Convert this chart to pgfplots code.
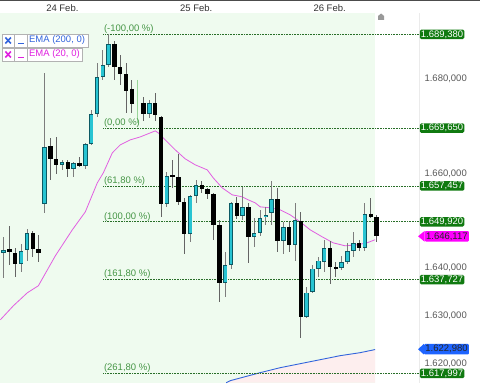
\documentclass[border=0pt]{standalone}
\usepackage{pgfplots}
\pgfplotsset{compat=1.18}
\usepackage{pgfplotstable}
\usepackage{fontspec}
\setmainfont{Liberation Sans}
\definecolor{bggreen}{RGB}{239,251,239}
\definecolor{fibline}{RGB}{40,110,40}
\definecolor{fibtext}{RGB}{70,150,70}
\definecolor{fibboxc}{RGB}{16,122,16}
\definecolor{bullfill}{RGB}{40,196,210}
\definecolor{bulledge}{RGB}{12,90,100}
\definecolor{wick}{RGB}{125,125,125}
\definecolor{emaviolet}{RGB}{225,95,225}
\definecolor{emablue}{RGB}{50,100,220}
\definecolor{legmag}{RGB}{224,32,224}
\definecolor{markpink}{RGB}{255,0,255}
\definecolor{markblue}{RGB}{30,100,255}
\definecolor{emafill}{RGB}{253,238,238}

\pgfplotstableread{
x o h l c
3.3 1643.37 1646.74 1638.11 1644.00
20.8 1641.05 1645.26 1639.37 1643.79
26.6 1644.00 1648.42 1641.69 1647.58
44.1 1653.68 1681.26 1651.79 1665.68
61.6 1661.90 1662.95 1660.84 1662.53
73.3 1661.05 1662.53 1659.37 1662.32
85.0 1661.69 1666.53 1661.05 1666.32
90.8 1666.32 1673.47 1666.11 1672.63
96.6 1672.63 1683.37 1672.00 1680.42
102.4 1680.42 1686.11 1679.79 1682.95
108.3 1682.95 1689.38 1682.53 1687.37
149.1 1672.63 1675.58 1671.79 1674.95
166.5 1653.68 1660.42 1653.05 1659.58
189.9 1647.37 1655.58 1645.69 1655.37
195.7 1655.37 1658.74 1653.89 1657.69
224.9 1637.05 1643.58 1634.11 1640.84
230.7 1640.84 1654.11 1640.00 1653.89
242.4 1651.16 1657.26 1650.32 1653.05
254.0 1646.74 1650.74 1644.63 1647.58
259.9 1647.58 1652.42 1646.95 1650.74
265.7 1650.95 1653.05 1649.26 1651.37
271.5 1651.79 1658.53 1649.26 1654.74
283.2 1645.90 1649.90 1643.16 1648.84
294.9 1645.05 1653.89 1641.69 1650.32
306.5 1629.90 1636.21 1629.69 1634.95
312.4 1635.16 1640.84 1634.95 1640.00
318.2 1640.00 1642.53 1638.32 1641.69
324.0 1641.47 1646.11 1639.37 1644.42
341.5 1640.21 1642.74 1639.79 1641.47
347.4 1641.47 1645.47 1641.05 1643.79
353.2 1643.79 1647.79 1642.53 1645.47
364.8 1644.42 1653.89 1643.79 1651.58
}\bull

\pgfplotstableread{
x o h l c
9.1 1644.21 1649.05 1640.84 1643.58
14.9 1643.37 1644.42 1638.32 1641.05
32.5 1647.58 1648.00 1642.53 1644.21
38.3 1644.21 1647.16 1641.47 1643.37
50.0 1665.90 1667.58 1658.74 1663.16
55.8 1663.16 1667.79 1660.00 1661.90
67.4 1662.53 1662.95 1659.37 1661.05
79.1 1662.32 1663.58 1661.47 1661.69
114.1 1687.37 1688.00 1679.79 1682.53
120.0 1682.53 1685.05 1678.74 1681.05
125.8 1681.05 1683.37 1672.84 1677.47
131.6 1677.89 1679.79 1672.84 1674.74
143.2 1674.95 1676.21 1671.16 1672.63
154.9 1674.95 1677.05 1671.16 1672.42
160.7 1672.00 1672.21 1650.95 1653.68
172.4 1659.79 1662.95 1657.05 1659.37
178.2 1659.37 1664.21 1653.47 1654.11
184.0 1654.11 1654.95 1643.16 1647.37
201.6 1657.69 1658.53 1656.00 1656.84
207.4 1656.84 1657.05 1654.74 1655.79
213.2 1655.79 1656.00 1646.11 1649.26
219.1 1649.26 1650.32 1633.05 1637.05
236.5 1653.89 1655.16 1650.53 1651.16
248.2 1653.05 1653.89 1641.26 1646.74
277.4 1654.74 1657.05 1643.58 1645.90
289.0 1648.84 1649.90 1643.58 1645.05
300.7 1650.11 1652.00 1625.47 1629.90
329.9 1644.42 1645.90 1636.84 1640.42
335.7 1640.42 1641.47 1638.32 1640.00
359.0 1645.47 1646.11 1643.79 1644.42
370.7 1651.58 1654.95 1650.74 1650.95
376.5 1650.95 1651.37 1645.69 1646.95
}\bear

\pgfplotstableread{
x y
0 1629.26
13 1632.21
27 1634.95
38 1636.42
55 1642.74
72 1648.21
85 1652.00
97 1658.11
103 1660.21
112 1664.42
120 1666.11
130 1667.16
140 1667.79
150 1668.63
155 1669.05
158 1668.63
165 1667.16
175 1665.05
185 1663.16
195 1661.90
207 1660.84
213 1659.16
222 1657.05
232 1655.58
242 1655.16
248 1654.53
255 1653.89
260 1653.05
270 1652.84
280 1652.42
290 1651.37
300 1649.90
310 1648.21
322 1646.74
333 1645.47
345 1644.84
357 1645.05
367 1645.47
375 1646.12
}\ematwenty

\pgfplotstableread{
x y
226 1616.00
230 1616.42
260 1618.11
280 1619.16
300 1620.00
320 1620.84
340 1621.69
360 1622.32
375 1622.98
}\ematwohundred

\tikzset{
  fiblab/.style={anchor=south west, text=fibtext, inner sep=0.5pt},
  pricebox/.style={anchor=west, fill=fibboxc, text=white, inner xsep=1.2pt, inner ysep=0pt, minimum height=9.5pt, rounded corners=1.5pt},
  fibln/.style={draw=fibline, line width=0.7pt, dash pattern=on 0.8pt off 0.8pt},
  markbox/.style={anchor=east, inner xsep=1.2pt, inner ysep=0pt, minimum height=10.5pt, rounded corners=1pt},
}

\begin{document}
\begin{tikzpicture}[font=\fontsize{9.5}{11}\selectfont]
% canvas and backgrounds
\fill[white] (0pt,0pt) rectangle (480pt,383pt);
\fill[bggreen] (0pt,0pt) rectangle (375pt,370pt);
\draw[black!8] (419pt,0pt) -- (419pt,370pt);
\fill[black!70] (0pt,382pt) rectangle (480pt,383pt);

\begin{axis}[at={(0pt,0pt)}, anchor=south west, scale only axis,
  width=375pt, height=370pt,
  xmin=0, xmax=375, ymin=1616.0, ymax=1693.895,
  axis lines=none, clip=false]

% EMA 200 shaded area and line
\addplot[fill=emafill, draw=none] coordinates {
 (226,1616.00) (230,1616.42) (260,1618.11) (280,1619.16) (300,1620.00)
 (320,1620.84) (340,1621.69) (360,1622.32) (375,1622.98) (375,1616.00)} -- cycle;
\addplot[emablue, line width=0.9pt, mark=none] table[x=x,y=y] {\ematwohundred};

% Fibonacci levels
\addplot[fibln, mark=none] coordinates {(103,1689.38) (420,1689.38)};
\addplot[fibln, mark=none] coordinates {(103,1669.65) (420,1669.65)};
\addplot[fibln, mark=none] coordinates {(103,1657.457) (420,1657.457)};
\addplot[fibln, mark=none] coordinates {(103,1649.92) (420,1649.92)};
\addplot[fibln, mark=none] coordinates {(103,1637.727) (420,1637.727)};
\addplot[fibln, mark=none] coordinates {(103,1617.997) (420,1617.997)};
\addplot[green!60!black!40, line width=0.6pt, mark=none] coordinates {(137,1679.79) (137,1670.74)};

% EMA 20
\addplot[emaviolet, line width=0.8pt, mark=none] table[x=x,y=y] {\ematwenty};

% wicks
\addplot[draw=none, mark=none, error bars/.cd, y dir=plus, y explicit, error mark=none,
  error bar style={draw=wick, line width=0.8pt}]
  table[x=x, y=l, y error expr=\thisrow{h}-\thisrow{l}] {\bull};
\addplot[draw=none, mark=none, error bars/.cd, y dir=plus, y explicit, error mark=none,
  error bar style={draw=wick!80!black, line width=0.8pt}]
  table[x=x, y=l, y error expr=\thisrow{h}-\thisrow{l}] {\bear};

% bodies
\addplot[draw=none, mark=none, error bars/.cd, y dir=plus, y explicit, error mark=none,
  error bar style={draw=black, line width=4.4pt}]
  table[x=x, y=c, y error expr=\thisrow{o}-\thisrow{c}] {\bear};
\addplot[draw=none, mark=none, error bars/.cd, y dir=plus, y explicit, error mark=none,
  error bar style={draw=bulledge, line width=4.4pt}]
  table[x=x, y=o, y error expr=\thisrow{c}-\thisrow{o}] {\bull};
\addplot[draw=none, mark=none, error bars/.cd, y dir=plus, y explicit, error mark=none,
  error bar style={draw=bullfill, line width=2.8pt}]
  table[x=x, y expr=\thisrow{o}+0.15, y error expr=\thisrow{c}-\thisrow{o}-0.3] {\bull};

% Fibonacci labels
\node[fiblab] at (axis cs:103,1689.38) {(-100,00 \%)};
\node[fiblab] at (axis cs:103,1669.65) {(0,00 \%)};
\node[fiblab] at (axis cs:103,1657.457) {(61,80 \%)};
\node[fiblab] at (axis cs:103,1649.92) {(100,00 \%)};
\node[fiblab] at (axis cs:103,1637.727) {(161,80 \%)};
\node[fiblab] at (axis cs:103,1617.997) {(261,80 \%)};
\end{axis}

% price axis labels
\node[anchor=east, text=black!65, inner sep=0pt] at (467pt,304pt) {1.680,000};
\node[anchor=east, text=black!65, inner sep=0pt] at (467pt,209pt) {1.660,000};
\node[anchor=east, text=black!65, inner sep=0pt] at (467pt,114.5pt) {1.640,000};
\node[anchor=east, text=black!65, inner sep=0pt] at (467pt,66.5pt) {1.630,000};
\node[anchor=east, text=black!65, inner sep=0pt] at (467pt,19pt) {1.620,000};

% price boxes (y in pt = 383 - pixel row)
\node[pricebox] at (419.5pt,348.6pt) {1.689,380};
\node[pricebox] at (419.5pt,254.8pt) {1.669,650};
\node[pricebox] at (419.5pt,196.9pt) {1.657,457};
\node[pricebox] at (419.5pt,161.0pt) {1.649,920};
\node[pricebox] at (419.5pt,103.1pt) {1.637,727};
\node[pricebox] at (419.5pt,9.3pt) {1.617,997};

% EMA value markers
\node[markbox, fill=markpink, text=black!85] (pm) at (469pt,146.5pt) {1.646,117};
\fill[markpink] (pm.north west) -- (418pt,146.5pt) -- (pm.south west) -- cycle;
\node[markbox, fill=markblue, text=black!85] (bm) at (469pt,33.5pt) {1.622,980};
\fill[markblue] (bm.north west) -- (418pt,33.5pt) -- (bm.south west) -- cycle;

% date labels
\node[text=black!80, inner sep=0pt] at (62pt,374.5pt) {24 Feb.};
\node[text=black!80, inner sep=0pt] at (196pt,374.5pt) {25 Feb.};
\node[text=black!80, inner sep=0pt] at (329.5pt,374.5pt) {26 Feb.};

% house icon
\fill[black!40] (378pt,363pt) -- (384pt,363pt) -- (384pt,367pt) -- (381pt,369.5pt) -- (378pt,367pt) -- cycle;

% legend boxes
\draw[black!30, fill=white] (1.5pt,336pt) rectangle (14pt,349pt);
\draw[black!30, fill=white] (14pt,336pt) rectangle (27pt,349pt);
\draw[black!30, fill=white] (27pt,336pt) rectangle (88pt,349pt);
\draw[emablue, line width=1.6pt] (5pt,339.5pt) -- (10.5pt,345.5pt) (5pt,345.5pt) -- (10.5pt,339.5pt);
\fill[emablue] (17.5pt,338.5pt) rectangle (23.5pt,340.3pt);
\node[anchor=west, text=emablue, inner sep=0pt] at (28.5pt,342.5pt) {EMA (200, 0)};
\draw[black!30, fill=white] (1.5pt,322pt) rectangle (14pt,335pt);
\draw[black!30, fill=white] (14pt,322pt) rectangle (27pt,335pt);
\draw[black!30, fill=white] (27pt,322pt) rectangle (82pt,335pt);
\draw[legmag, line width=1.6pt] (5pt,325.5pt) -- (10.5pt,331.5pt) (5pt,331.5pt) -- (10.5pt,325.5pt);
\fill[legmag] (17.5pt,324.5pt) rectangle (23.5pt,326.3pt);
\node[anchor=west, text=legmag, inner sep=0pt] at (28.5pt,328.5pt) {EMA (20, 0)};
\end{tikzpicture}
\end{document}
